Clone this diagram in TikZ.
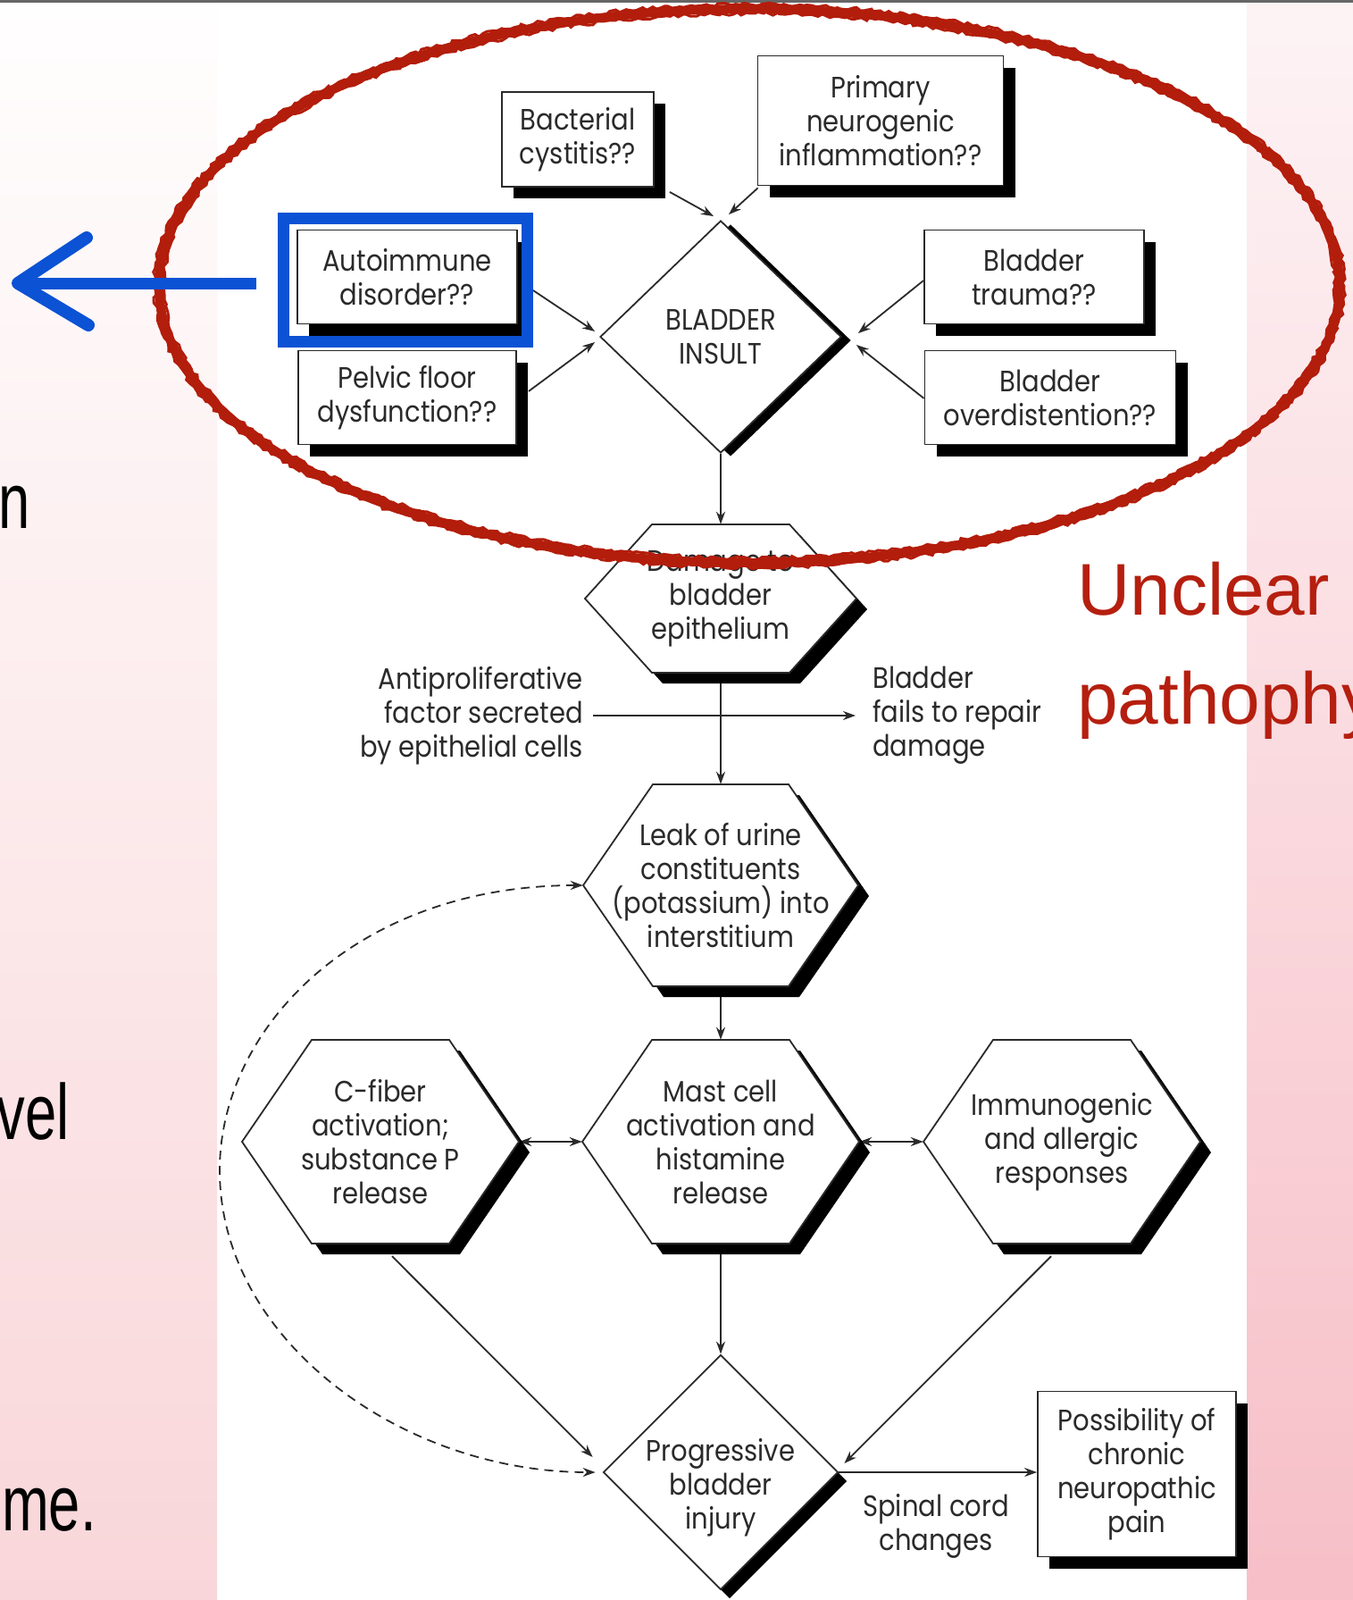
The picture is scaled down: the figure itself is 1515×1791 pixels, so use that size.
\documentclass[tikz,border=0pt]{standalone}
\usepackage{fontspec}
\setmainfont{Poppins}[FakeStretch=0.88]
\newfontfamily\slidefont{Liberation Sans}[FakeStretch=0.72]
\newfontfamily\redfont{Liberation Sans}
\usetikzlibrary{arrows.meta,shapes.geometric,shadows,decorations.pathmorphing}
\definecolor{ink}{HTML}{2A2A2A}
\definecolor{annred}{HTML}{B31D0B}
\definecolor{annblue}{HTML}{0B52D4}
\definecolor{slidered}{HTML}{B51F0F}
\definecolor{pinkA}{HTML}{FFFEFE}
\definecolor{pinkB}{HTML}{FEF6F7}
\definecolor{pinkC}{HTML}{F9D6D9}
\definecolor{pinkD}{HTML}{FDF3F5}
\definecolor{pinkE}{HTML}{F9CBD2}
\definecolor{pinkF}{HTML}{F7BFC7}
\pgfdeclarelayer{bg}
\pgfdeclarelayer{edges}
\pgfdeclarelayer{fg}
\pgfsetlayers{bg,edges,main,fg}
\newcommand\dfont{\fontsize{33}{38}\selectfont}
\tikzset{
 txt/.style={inner sep=0pt, align=center, font=\dfont, text=ink},
 box/.style={txt, draw=ink, line width=1.8pt, fill=white, drop shadow={shadow xshift=13pt, shadow yshift=-13pt, opacity=1, fill=black}},
 diam/.style={diamond, draw=ink, line width=1.8pt, fill=white, inner sep=0pt},
 arr/.style={draw=ink, line width=1.8pt, -{Stealth[length=14pt,width=10pt]}},
 darr/.style={draw=ink, line width=1.8pt, {Stealth[length=14pt,width=10pt]}-{Stealth[length=14pt,width=10pt]}},
 slide/.style={inner sep=0pt, font=\slidefont\fontsize{88}{100}\selectfont, text=black, anchor=base east},
 redtxt/.style={inner sep=0pt, font=\redfont\fontsize{82}{90}\selectfont, text=slidered, anchor=base west},
}
% name, cx, cy, half width, half top edge, half height, text
\newcommand\hexnode[7]{%
 \begin{scope}[shift={(#2,#3)}]
  \fill[black,shift={(12,12)}] (-#4,0) -- (-#5,-#6) -- (#5,-#6) -- (#4,0) -- (#5,#6) -- (-#5,#6) -- cycle;
  \filldraw[fill=white,draw=ink,line width=1.8pt] (-#4,0) -- (-#5,-#6) -- (#5,-#6) -- (#4,0) -- (#5,#6) -- (-#5,#6) -- cycle;
 \end{scope}
 \node[txt, minimum width=2*#4, minimum height=2*#6] (#1) at (#2,#3) {#7};
}
\begin{document}
\begin{tikzpicture}[x=1pt,y=-1pt]
\useasboundingbox (0,0) rectangle (1515,1791);
\clip (0,0) rectangle (1515,1791);
\begin{pgfonlayer}{bg}
 \fill[white] (0,0) rectangle (1515,1791);
 \shade[top color=pinkA, middle color=pinkB, bottom color=pinkC] (0,0) rectangle (243,1791);
 \shade[top color=pinkD, middle color=pinkE, bottom color=pinkF] (1396,0) rectangle (1515,1791);
 \fill[black!60] (0,0) rectangle (1515,3);
\end{pgfonlayer}

% top boxes
\node[box, minimum width=170, minimum height=106] (bact) at (647,156) {Bacterial\\cystitis??};
\node[box, minimum width=275, minimum height=145] (prim) at (986,135) {Primary\\neurogenic\\inflammation??};
\node[box, minimum width=246, minimum height=105] (auto) at (456,310) {Autoimmune\\disorder??};
\node[box, minimum width=244, minimum height=105] (pelv) at (456,445) {Pelvic floor\\dysfunction??};
\node[box, minimum width=246, minimum height=105] (trau) at (1158,310) {Bladder\\trauma??};
\node[box, minimum width=281, minimum height=105] (over) at (1176,445) {Bladder\\overdistention??};
\node[diam, minimum width=270, minimum height=260, drop shadow={shadow xshift=11pt,shadow yshift=-4pt,opacity=1,fill=black}] (ins) at (807,377) {};
\node[txt] (insT) at (807,377) {BLADDER\\INSULT};

% hexagons
\hexnode{dmg}{807}{670}{152}{77}{83}{Damage to\\bladder\\epithelium}
\hexnode{leak}{807}{991}{154}{76}{113}{Leak of urine\\constituents\\(potassium) into\\interstitium}
\hexnode{cfib}{426}{1278}{155}{77}{114}{C-fiber\\activation;\\substance P\\release}
\hexnode{mast}{807}{1278}{155}{77}{114}{Mast cell\\activation and\\histamine\\release}
\hexnode{immu}{1189}{1278}{155}{77}{114}{Immunogenic\\and allergic\\responses}

\node[diam, minimum width=263, minimum height=263, drop shadow={shadow xshift=10pt,shadow yshift=-10pt,opacity=1,fill=black}] (prog) at (807,1648) {};
\node[txt] (progT) at (807,1665) {Progressive\\bladder\\injury};
\node[box, minimum width=222, minimum height=185] (poss) at (1273,1650) {Possibility of\\chronic\\neuropathic\\pain};

\node[txt, anchor=east, align=right] (anti) at (653,801) {Antiproliferative\\factor secreted\\by epithelial cells};
\node[txt, anchor=west, align=left] (fail) at (977,801) {Bladder\\fails to repair\\damage};
\node[txt] (spin) at (1048,1708) {Spinal cord\\changes};

\begin{pgfonlayer}{edges}
 \draw[arr] ([xshift=17pt,yshift=-5pt]bact.south east) -- ([xshift=-8pt,yshift=4pt]ins.north);
 \draw[arr] ([xshift=1pt,yshift=-2pt]prim.south west) -- ([xshift=9pt,yshift=6pt]ins.north);
 \draw[arr] ([xshift=17pt,yshift=-15pt]auto.east) -- ([xshift=-5pt,yshift=6pt]ins.west);
 \draw[arr] ([xshift=13pt,yshift=7pt]pelv.east) -- ([xshift=-5pt,yshift=-6pt]ins.west);
 \draw[arr] ([yshift=-4pt]trau.west) -- ([xshift=18pt,yshift=4pt]ins.east);
 \draw[arr] ([yshift=-1pt]over.west) -- ([xshift=16pt,yshift=-9pt]ins.east);
 \draw[arr] (ins.south) -- (dmg.north);
 \draw[arr] ([xshift=11pt]anti.east) -- ([xshift=-19pt]fail.west);
 \draw[arr] (dmg.south) -- (leak.north);
 \draw[arr] (leak.south) -- (mast.north);
 \draw[darr] (cfib.east) -- (mast.west);
 \draw[darr] (mast.east) -- (immu.west);
 \draw[arr] (mast.south) -- (prog.north);
 \draw[arr] ([xshift=13pt,yshift=-14pt]cfib.south) -- ([xshift=-11pt,yshift=17pt]prog.west);
 \draw[arr] ([xshift=-12pt,yshift=-14pt]immu.south) -- ([xshift=6pt,yshift=10pt]prog.east);
 \draw[arr] (prog.east) -- (prog.east -| poss.west);
 \draw[darr, dash pattern=on 10pt off 7pt] (leak.west) .. controls (400,991) and (246,1150) .. (246,1310) .. controls (246,1500) and (450,1648) .. ([xshift=-8pt]prog.west);
\end{pgfonlayer}

\begin{pgfonlayer}{fg}
 % red hand-drawn ellipse
 \draw[annred, line width=10pt] (839,320) ellipse [x radius=661, y radius=310];
 \draw[annred, line width=3pt, decorate, decoration={random steps, segment length=5pt, amplitude=2pt}] (839,320) ellipse [x radius=666, y radius=315];
 \draw[annred, line width=3pt, decorate, decoration={random steps, segment length=5pt, amplitude=2pt}] (839,320) ellipse [x radius=656, y radius=305];
 % blue highlight and arrow
 \node[draw=annblue, line width=13pt, minimum width=273, minimum height=138, inner sep=0pt] (hl) at (453.5,313) {};
 \coordinate (tip) at (20,317);
 \draw[annblue, line width=13pt] ([xshift=-24pt,yshift=-4pt]hl.west) -- (tip);
 \draw[annblue, line width=14pt, line join=round, line cap=round] (97,266) -- (tip) -- (99,364);
 % slide text
 \node[redtxt] (uncl) at (1206,688) {Unclear};
 \node[redtxt] (patho) at (1206,810) {pathophysiology};
 \node[slide] (s1) at (34,591) {n};
 \node[slide] (s2) at (78,1275) {vel};
 \node[slide] (s3) at (108,1713) {me.};
\end{pgfonlayer}
\end{tikzpicture}
\end{document}
